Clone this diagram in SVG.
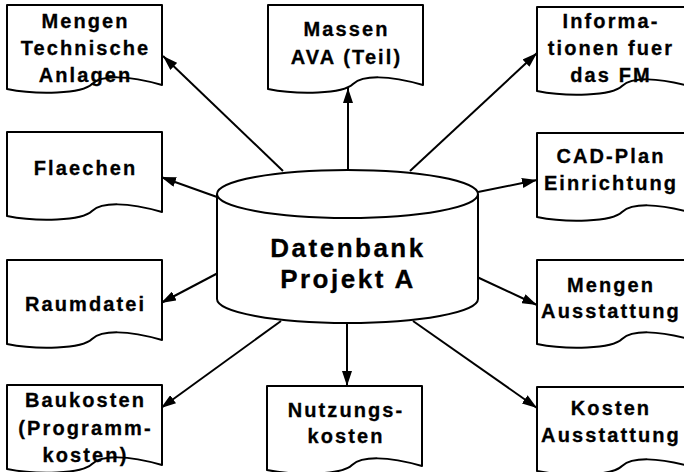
<svg xmlns="http://www.w3.org/2000/svg" xmlns:xlink="http://www.w3.org/1999/xlink" width="684" height="472" viewBox="0 0 684 472">
<style>
.doc{fill:#fff;stroke:#000;stroke-width:2;stroke-linejoin:round}
.t{font-family:"Liberation Sans",Arial,sans-serif;font-weight:bold;font-size:20px;letter-spacing:2.1px;text-anchor:middle;fill:#000;stroke:#000;stroke-width:0.3}
.big{font-size:26px;letter-spacing:2.5px}
.c{stroke:#000;stroke-width:2;fill:none;marker-end:url(#ah)}
.cyl{fill:#fff;stroke:#000;stroke-width:2}
</style>
<defs>
<marker id="ah" markerUnits="userSpaceOnUse" markerWidth="15" markerHeight="10" refX="15" refY="5" orient="auto">
<path d="M0,0 L15,5 L0,10 Z" fill="#000"/>
</marker>
<path id="docshape" d="M0,0 H155 V80 C120,70 95,70 85,79 C75,89 30,90 0,84 Z"/>
</defs>
<rect width="684" height="472" fill="#fff"/>
<g id="connectors">
<line class="c" x1="283" y1="171" x2="163" y2="56"/>
<line class="c" x1="348" y1="170" x2="348" y2="88"/>
<line class="c" x1="410" y1="171" x2="537" y2="53"/>
<line class="c" x1="217" y1="197" x2="161" y2="177"/>
<line class="c" x1="478" y1="192" x2="537" y2="180"/>
<line class="c" x1="218" y1="273" x2="161" y2="303"/>
<line class="c" x1="477" y1="277" x2="537" y2="305"/>
<line class="c" x1="281" y1="321" x2="161" y2="408"/>
<line class="c" x1="347" y1="323" x2="347" y2="386"/>
<line class="c" x1="413" y1="321" x2="537" y2="408"/>
</g>
<g id="datenbank">
<path class="cyl" d="M217,194 V299 A130.5,24 0 0 0 478,299 V194"/>
<ellipse class="cyl" cx="347.5" cy="194" rx="130.5" ry="24"/>
<text class="t big" x="348" y="257">Datenbank</text>
<text class="t big" x="348" y="288">Projekt A</text>
</g>
<g id="mengen-technische-anlagen">
<use xlink:href="#docshape" class="doc" x="7" y="5"/>
<text class="t" x="85.5" y="28">Mengen</text>
<text class="t" x="85.5" y="55">Technische</text>
<text class="t" x="85.5" y="82">Anlagen</text>
</g>
<g id="massen-ava">
<use xlink:href="#docshape" class="doc" x="268" y="5"/>
<text class="t" x="346.5" y="36">Massen</text>
<text class="t" x="346.5" y="64">AVA (Teil)</text>
</g>
<g id="informationen-fm">
<use xlink:href="#docshape" class="doc" x="537" y="7"/>
<text class="t" x="611" y="28">Informa-</text>
<text class="t" x="611" y="55">tionen fuer</text>
<text class="t" x="611" y="82">das FM</text>
</g>
<g id="flaechen">
<use xlink:href="#docshape" class="doc" x="7" y="132"/>
<text class="t" x="85.5" y="175">Flaechen</text>
</g>
<g id="cad-plan">
<use xlink:href="#docshape" class="doc" x="537" y="133"/>
<text class="t" x="611" y="163">CAD-Plan</text>
<text class="t" x="611" y="190">Einrichtung</text>
</g>
<g id="raumdatei">
<use xlink:href="#docshape" class="doc" x="7" y="260"/>
<text class="t" x="85.5" y="311">Raumdatei</text>
</g>
<g id="mengen-ausstattung">
<use xlink:href="#docshape" class="doc" x="537" y="260"/>
<text class="t" x="611" y="292">Mengen</text>
<text class="t" x="611" y="318">Ausstattung</text>
</g>
<g id="baukosten">
<use xlink:href="#docshape" class="doc" x="7" y="385"/>
<text class="t" x="85.5" y="407">Baukosten</text>
<text class="t" x="85.5" y="435">(Programm-</text>
<text class="t" x="85.5" y="462">kosten)</text>
</g>
<g id="nutzungskosten">
<use xlink:href="#docshape" class="doc" x="267" y="386"/>
<text class="t" x="346" y="417">Nutzungs-</text>
<text class="t" x="346" y="443">kosten</text>
</g>
<g id="kosten-ausstattung">
<use xlink:href="#docshape" class="doc" x="537" y="387"/>
<text class="t" x="611" y="415">Kosten</text>
<text class="t" x="611" y="442">Ausstattung</text>
</g>
</svg>
